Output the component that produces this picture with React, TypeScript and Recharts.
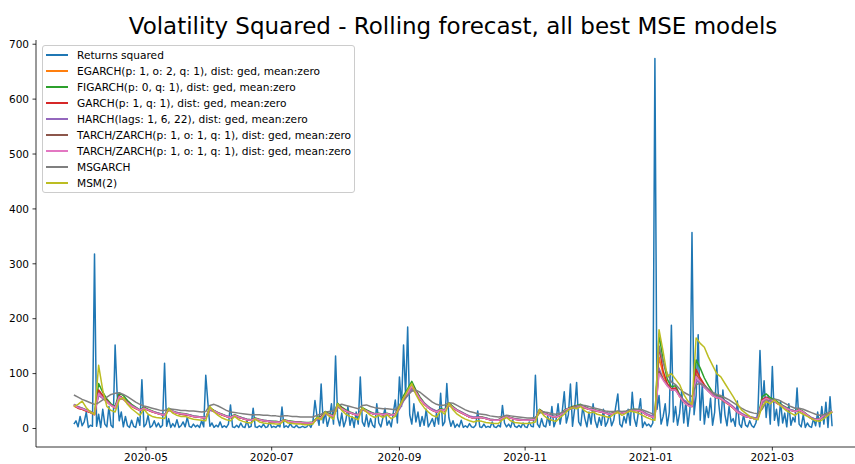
import React from 'react';
import { LineChart, Line, XAxis, YAxis } from 'recharts';

// Daily series starts on this date; model forecasts are sampled every second day.
const startDate = '2020-03-27';
const monthTicks = ['2020-05', '2020-07', '2020-09', '2020-11', '2021-01', '2021-03'];
const yTicks = [0, 100, 200, 300, 400, 500, 600, 700];

const returnsSquared = [
  8, 14, 3, 22, 5, 12, 30, 2, 6, 4,
  318, 4, 26, 2, 35, 8, 3, 40, 6, 2,
  152, 62, 14, 30, 3, 22, 5, 2, 15, 4,
  2, 20, 6, 89, 3, 8, 24, 2, 5, 14,
  3, 10, 2, 6, 119, 4, 18, 2, 9, 3,
  16, 2, 5, 12, 3, 20, 4, 2, 8, 3,
  6, 2, 14, 3, 97, 48, 4, 10, 2, 6,
  3, 12, 2, 5, 2, 8, 43, 3, 2, 6,
  2, 10, 3, 2, 14, 2, 4, 37, 3, 2,
  5, 2, 8, 2, 3, 12, 2, 4, 2, 6,
  3, 39, 2, 5, 2, 9, 3, 2, 6, 2,
  2, 4, 2, 3, 8, 2, 12, 51, 22, 6,
  81, 10, 30, 4, 18, 45, 8, 132, 20, 5,
  28, 3, 15, 40, 6, 22, 2, 30, 8, 94,
  12, 4, 25, 3, 18, 6, 2, 45, 10, 3,
  20, 37, 6, 14, 3, 28, 52, 10, 94, 40,
  152, 60, 185, 25, 8, 45, 12, 30, 4, 22,
  6, 35, 3, 10, 18, 4, 28, 8, 64, 5,
  12, 82, 20, 4, 14, 2, 8, 3, 15, 2,
  5, 2, 9, 3, 2, 6, 32, 3, 2, 8,
  2, 4, 2, 12, 3, 2, 6, 3, 42, 10,
  3, 8, 2, 15, 4, 2, 6, 2, 10, 3,
  2, 12, 4, 3, 97, 8, 2, 18, 5, 3,
  22, 6, 40, 3, 15, 45, 8, 30, 67, 10,
  25, 81, 4, 35, 84, 12, 5, 40, 18, 3,
  30, 8, 45, 14, 2, 20, 6, 35, 4, 12,
  28, 5, 15, 40, 63, 8, 3, 22, 10, 35,
  6, 66, 18, 4, 30, 54, 2, 12, 5, 8,
  3, 10, 674, 35, 60, 8, 22, 45, 5, 30,
  188, 12, 40, 6, 28, 70, 10, 50, 4, 35,
  357, 25, 60, 171, 15, 80, 8, 40, 20, 55,
  6, 30, 115, 45, 10, 70, 25, 5, 40, 12,
  18, 4, 50, 8, 2, 25, 6, 3, 14, 5,
  2, 10, 30, 142, 40, 87, 20, 60, 8, 113,
  15, 35, 5, 50, 10, 28, 3, 45, 6, 20,
  12, 74, 8, 3, 25, 2, 10, 4, 2, 18,
  5, 30, 3, 40, 8, 48, 2, 58, 4,
];

const egarch = [
  41, 37, 35, 32, 29, 26, 62, 55, 48, 42,
  37, 56, 53, 46, 40, 36, 33, 36, 33, 30,
  28, 26, 24, 33, 30, 28, 26, 25, 23, 22,
  21, 20, 19, 34, 31, 27, 24, 22, 20, 23,
  20, 18, 16, 15, 17, 15, 14, 13, 12, 12,
  11, 14, 13, 12, 11, 11, 10, 10, 11, 17,
  19, 27, 24, 22, 40, 35, 31, 28, 26, 24,
  34, 31, 28, 26, 26, 25, 26, 24, 26, 36,
  52, 62, 75, 64, 53, 44, 38, 33, 30, 33,
  32, 42, 37, 32, 28, 25, 21, 19, 20, 20,
  18, 16, 15, 15, 18, 21, 19, 17, 16, 15,
  15, 16, 17, 32, 28, 25, 22, 21, 24, 31,
  35, 37, 39, 41, 37, 35, 33, 31, 30, 28,
  26, 28, 29, 28, 30, 32, 33, 32, 30, 25,
  22, 20, 130, 98, 80, 70, 72, 58, 48, 42,
  40, 100, 88, 78, 69, 61, 56, 54, 48, 43,
  37, 30, 26, 22, 20, 18, 18, 48, 54, 51,
  49, 44, 40, 36, 33, 31, 33, 30, 24, 18,
  16, 17, 23, 26, 30,
];

const figarch = [
  44, 39, 37, 34, 31, 27, 82, 66, 54, 45,
  40, 65, 60, 51, 44, 39, 34, 39, 35, 32,
  29, 27, 25, 37, 32, 29, 28, 27, 25, 23,
  22, 21, 20, 38, 33, 29, 26, 23, 21, 25,
  22, 19, 17, 16, 19, 17, 15, 14, 13, 13,
  12, 16, 14, 13, 12, 12, 11, 11, 12, 20,
  22, 31, 27, 24, 46, 39, 34, 30, 27, 25,
  38, 34, 30, 27, 28, 26, 28, 25, 27, 40,
  60, 72, 86, 70, 57, 47, 40, 35, 31, 36,
  34, 47, 40, 34, 30, 26, 22, 20, 21, 21,
  19, 17, 16, 16, 20, 23, 20, 18, 17, 16,
  16, 17, 18, 35, 30, 26, 23, 22, 25, 33,
  37, 40, 42, 44, 40, 36, 35, 33, 31, 29,
  27, 29, 31, 29, 31, 34, 35, 34, 31, 26,
  23, 21, 172, 124, 90, 76, 78, 62, 51, 44,
  41, 125, 110, 92, 78, 66, 60, 58, 51, 45,
  39, 31, 27, 23, 21, 19, 19, 58, 63, 56,
  53, 47, 42, 38, 34, 32, 35, 31, 25, 19,
  17, 18, 25, 28, 32,
];

const garch = [
  42, 37, 35, 32, 29, 25, 70, 60, 51, 43,
  38, 60, 55, 48, 42, 37, 33, 37, 34, 31,
  28, 26, 24, 35, 31, 28, 26, 25, 24, 22,
  21, 20, 19, 36, 32, 28, 25, 22, 20, 24,
  20, 18, 16, 15, 18, 16, 14, 13, 12, 12,
  11, 15, 13, 12, 11, 11, 10, 10, 11, 18,
  21, 29, 25, 22, 43, 37, 32, 29, 26, 24,
  36, 32, 28, 26, 27, 25, 27, 24, 26, 38,
  56, 66, 80, 67, 55, 45, 38, 33, 30, 34,
  33, 45, 38, 33, 29, 25, 21, 19, 20, 20,
  18, 16, 15, 15, 19, 22, 19, 17, 16, 15,
  15, 16, 17, 34, 29, 25, 22, 21, 24, 32,
  36, 39, 41, 42, 38, 35, 34, 32, 30, 28,
  26, 28, 30, 28, 30, 33, 34, 33, 30, 25,
  22, 20, 150, 105, 82, 72, 74, 60, 50, 43,
  40, 108, 92, 80, 70, 62, 57, 55, 49, 44,
  38, 30, 26, 22, 20, 18, 18, 52, 57, 53,
  50, 45, 40, 36, 33, 31, 34, 30, 24, 18,
  16, 17, 24, 27, 31,
];

const harch = [
  44, 40, 37, 34, 31, 28, 60, 55, 49, 43,
  39, 55, 53, 47, 42, 38, 34, 36, 34, 31,
  29, 27, 25, 33, 31, 29, 27, 26, 25, 23,
  22, 21, 20, 33, 31, 28, 25, 23, 21, 23,
  21, 19, 17, 16, 17, 16, 15, 14, 13, 12,
  12, 14, 13, 12, 12, 11, 11, 10, 11, 16,
  19, 26, 25, 23, 39, 35, 32, 29, 27, 25,
  34, 32, 29, 27, 27, 26, 27, 25, 26, 35,
  50, 60, 72, 65, 55, 46, 40, 35, 32, 34,
  33, 42, 38, 34, 30, 26, 23, 21, 21, 20,
  19, 17, 16, 16, 18, 21, 19, 18, 17, 16,
  16, 16, 17, 30, 28, 25, 23, 22, 24, 30,
  34, 37, 39, 41, 38, 36, 34, 32, 31, 29,
  27, 28, 30, 29, 30, 32, 33, 33, 31, 27,
  24, 22, 110, 90, 78, 70, 70, 60, 52, 46,
  43, 88, 82, 75, 68, 62, 58, 56, 51, 46,
  40, 33, 28, 24, 22, 20, 19, 46, 52, 50,
  49, 45, 41, 37, 34, 32, 33, 30, 25, 20,
  17, 17, 22, 26, 30,
];

const tarch = [
  43, 38, 36, 33, 30, 26, 66, 57, 50, 43,
  38, 59, 55, 48, 41, 37, 33, 37, 34, 31,
  28, 26, 24, 35, 31, 28, 27, 26, 24, 22,
  21, 20, 19, 36, 32, 28, 25, 22, 20, 24,
  21, 18, 16, 15, 18, 16, 14, 13, 12, 12,
  11, 15, 13, 12, 11, 11, 10, 10, 11, 18,
  20, 28, 25, 22, 42, 36, 32, 29, 26, 24,
  36, 32, 28, 26, 27, 25, 27, 24, 26, 38,
  55, 66, 79, 67, 54, 45, 38, 33, 30, 34,
  33, 44, 38, 33, 29, 25, 21, 19, 20, 20,
  18, 16, 15, 15, 19, 22, 19, 17, 16, 15,
  15, 16, 17, 33, 28, 25, 22, 21, 24, 32,
  36, 38, 40, 42, 38, 35, 34, 32, 30, 28,
  26, 28, 30, 28, 30, 33, 34, 33, 30, 25,
  22, 20, 104, 90, 79, 70, 71, 59, 49, 43,
  40, 97, 86, 77, 68, 60, 56, 55, 49, 44,
  38, 30, 26, 22, 20, 18, 18, 50, 55, 52,
  50, 45, 40, 36, 33, 31, 34, 30, 24, 18,
  16, 17, 24, 27, 31,
];

const tarch2 = [
  43, 38, 36, 33, 30, 26, 64, 56, 49, 42,
  38, 58, 54, 47, 41, 37, 33, 37, 34, 31,
  28, 26, 24, 35, 31, 28, 27, 26, 24, 22,
  21, 20, 19, 36, 32, 28, 25, 22, 20, 24,
  21, 18, 16, 15, 18, 16, 14, 13, 12, 12,
  11, 15, 13, 12, 11, 11, 10, 10, 11, 18,
  20, 28, 25, 22, 42, 36, 32, 29, 26, 24,
  36, 32, 28, 26, 27, 25, 27, 24, 26, 38,
  55, 65, 78, 66, 54, 45, 38, 33, 30, 34,
  33, 44, 38, 33, 29, 25, 21, 19, 20, 20,
  18, 16, 15, 15, 19, 22, 19, 17, 16, 15,
  15, 16, 17, 33, 28, 25, 22, 21, 24, 32,
  36, 38, 40, 42, 38, 35, 34, 32, 30, 28,
  26, 28, 30, 28, 30, 33, 34, 33, 30, 25,
  22, 20, 100, 88, 78, 70, 70, 58, 48, 42,
  40, 95, 85, 76, 68, 60, 56, 55, 49, 44,
  38, 30, 26, 22, 20, 18, 18, 50, 55, 52,
  50, 45, 40, 36, 33, 31, 34, 30, 24, 18,
  16, 17, 24, 27, 31,
];

const msgarch = [
  61, 57, 53, 50, 47, 44, 47, 52, 57, 62,
  64, 65, 62, 58, 53, 48, 44, 41, 39, 37,
  35, 33, 33, 36, 35, 34, 33, 33, 32, 32,
  31, 30, 31, 42, 44, 41, 37, 33, 30, 29,
  28, 27, 26, 25, 25, 25, 24, 24, 23, 23,
  22, 23, 23, 22, 22, 21, 21, 21, 21, 24,
  26, 30, 31, 32, 42, 44, 42, 40, 38, 36,
  42, 43, 40, 38, 37, 36, 36, 35, 34, 42,
  52, 60, 68, 70, 66, 60, 54, 48, 44, 42,
  43, 47, 46, 42, 38, 34, 31, 29, 27, 26,
  25, 23, 22, 21, 22, 24, 23, 22, 21, 20,
  19, 19, 20, 28, 30, 29, 27, 26, 28, 31,
  34, 38, 41, 43, 42, 40, 38, 36, 34, 32,
  31, 31, 32, 31, 32, 34, 35, 35, 34, 31,
  28, 25, 150, 120, 100, 85, 80, 72, 66, 62,
  58, 80, 82, 78, 72, 66, 62, 60, 56, 52,
  47, 42, 37, 33, 30, 28, 27, 35, 48, 52,
  54, 52, 48, 44, 40, 37, 37, 35, 32, 29,
  26, 24, 25, 27, 29,
];

const msm2 = [
  40, 44, 50, 38, 30, 26, 115, 70, 40, 33,
  30, 52, 56, 44, 36, 30, 24, 35, 26, 22,
  20, 19, 18, 36, 28, 24, 22, 22, 19, 17,
  16, 15, 14, 40, 30, 24, 19, 16, 14, 22,
  16, 13, 11, 10, 17, 12, 10, 9, 9, 8,
  8, 15, 10, 9, 8, 8, 7, 7, 8, 20,
  16, 30, 22, 17, 45, 33, 26, 22, 19, 16,
  38, 30, 24, 20, 24, 20, 25, 18, 22, 40,
  55, 70, 82, 62, 48, 38, 30, 24, 21, 32,
  26, 46, 34, 26, 21, 17, 14, 12, 14, 13,
  11, 10, 9, 9, 16, 20, 14, 11, 10, 9,
  9, 10, 12, 34, 24, 18, 15, 13, 20, 26,
  34, 38, 36, 40, 32, 28, 30, 26, 24, 22,
  20, 26, 30, 24, 28, 32, 30, 28, 24, 20,
  17, 15, 180, 140, 95, 100, 90, 80, 62, 50,
  44, 165, 155, 148, 130, 115, 100, 94, 82, 70,
  58, 45, 34, 28, 22, 18, 16, 40, 50, 45,
  52, 45, 38, 32, 28, 24, 30, 26, 22, 18,
  14, 13, 18, 24, 30,
];

const models = [
  { key: 'egarch', name: 'EGARCH(p: 1, o: 2, q: 1), dist: ged, mean:zero', color: '#ff7f0e', values: egarch },
  { key: 'figarch', name: 'FIGARCH(p: 0, q: 1), dist: ged, mean:zero', color: '#2ca02c', values: figarch },
  { key: 'garch', name: 'GARCH(p: 1, q: 1), dist: ged, mean:zero', color: '#d62728', values: garch },
  { key: 'harch', name: 'HARCH(lags: 1, 6, 22), dist: ged, mean:zero', color: '#9467bd', values: harch },
  { key: 'tarch', name: 'TARCH/ZARCH(p: 1, o: 1, q: 1), dist: ged, mean:zero', color: '#8c564b', values: tarch },
  { key: 'tarch2', name: 'TARCH/ZARCH(p: 1, o: 1, q: 1), dist: ged, mean:zero', color: '#e377c2', values: tarch2 },
  { key: 'msgarch', name: 'MSGARCH', color: '#7f7f7f', values: msgarch },
  { key: 'msm2', name: 'MSM(2)', color: '#bcbd22', values: msm2 },
];

const MODEL_STEP = 2;
const DAY_MS = 86400000;
const dayOf = (iso: string) => Math.round((Date.parse(iso) - Date.parse(startDate)) / DAY_MS);

const tickDays = monthTicks.map((m) => dayOf(`${m}-01`));
const labelByDay: Record<number, string> = {};
tickDays.forEach((d, i) => { labelByDay[d] = monthTicks[i]; });

const rows = returnsSquared.map((v, day) => {
  const row: Record<string, number | undefined> = { day, ret: v };
  models.forEach((m) => {
    row[m.key] = day % MODEL_STEP === 0 ? m.values[day / MODEL_STEP] : undefined;
  });
  return row;
});

// matplotlib-style 5% padding around the data
const lastDay = returnsSquared.length - 1;
const xPad = lastDay * 0.05;
const yMax = Math.max(...returnsSquared);
const yPad = yMax * 0.05;

const legendItems = [{ name: 'Returns squared', color: '#1f77b4' }, ...models];

const font = 'DejaVu Sans, sans-serif';
const tickStyle = { fill: '#000', fontSize: 10.5, fontFamily: font };

export default function App() {
  return (
    <div style={{ position: 'absolute', left: 0, top: 0, width: 855, height: 464, overflow: 'hidden', background: '#fff', fontFamily: font }}>
      <svg width={855} height={40} style={{ position: 'absolute', left: 0, top: 0 }}>
        <text x={453} y={33.5} textAnchor="middle" fontSize={23} fontFamily={font} fill="#000">
          Volatility Squared - Rolling forecast, all best MSE models
        </text>
      </svg>
      <LineChart
        width={880}
        height={464}
        data={rows}
        margin={{ top: 40, right: 10, bottom: 0, left: 0 }}
      >
        <XAxis
          dataKey="day"
          type="number"
          domain={[-xPad, lastDay + xPad]}
          ticks={tickDays}
          tickFormatter={(d: number) => labelByDay[d] ?? ''}
          allowDataOverflow
          height={17}
          tickSize={3.5}
          tickMargin={3}
          tick={tickStyle}
          stroke="#000"
          strokeWidth={0.8}
        />
        <XAxis xAxisId="top" orientation="top" dataKey="day" type="number" domain={[-xPad, lastDay + xPad]} height={0} tick={false} tickLine={false} stroke="#000" strokeWidth={0.8} />
        <YAxis
          type="number"
          domain={[-yPad, yMax + yPad]}
          ticks={yTicks}
          allowDataOverflow
          width={36}
          tickSize={3.5}
          tickMargin={3.5}
          tick={tickStyle}
          stroke="#000"
          strokeWidth={0.8}
        />
        <Line
          dataKey="ret"
          type="linear"
          stroke="#1f77b4"
          strokeWidth={1.5}
          strokeLinejoin="round"
          dot={false}
          activeDot={false}
          isAnimationActive={false}
        />
        {models.map((m) => (
          <Line
            key={m.key}
            dataKey={m.key}
            type="linear"
            stroke={m.color}
            strokeWidth={1.5}
            strokeLinejoin="round"
            dot={false}
            activeDot={false}
            connectNulls
            isAnimationActive={false}
          />
        ))}
      </LineChart>
      <div
        style={{
          position: 'absolute',
          left: 42,
          top: 45,
          width: 313,
          height: 148,
          boxSizing: 'border-box',
          border: '1px solid #ccc',
          borderRadius: 3,
          background: 'rgba(255,255,255,0.8)',
          paddingTop: 1,
        }}
      >
        {legendItems.map((item, i) => (
          <div key={i} style={{ display: 'flex', alignItems: 'center', height: 16 }}>
            <div style={{ marginLeft: 3, width: 22, height: 1.5, background: item.color }} />
            <span style={{ marginLeft: 9, fontSize: 10.6, color: '#000', whiteSpace: 'nowrap' }}>{item.name}</span>
          </div>
        ))}
      </div>
    </div>
  );
}
